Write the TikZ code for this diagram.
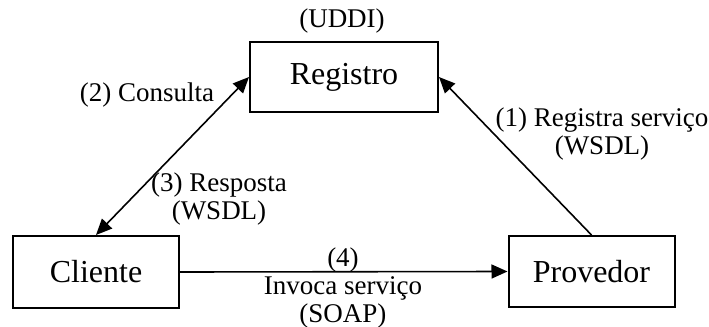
\documentclass[tikz,border=0pt]{standalone}
\usepackage{fontspec}
\setmainfont{Liberation Serif}
\usetikzlibrary{arrows.meta}

\begin{document}
\begin{tikzpicture}[x=0.5pt,y=-0.5pt,
	box/.style={draw,line width=1pt,minimum width=83pt,minimum height=36pt,inner sep=0pt,font=\fontsize{16}{18}\selectfont},
	lbl/.style={inner sep=0pt,align=center,font=\fontsize{13.5}{14}\selectfont},
	conn/.style={line width=0.8pt,arrows={-Triangle[length=8pt,width=7pt]}},
	conn2/.style={line width=0.8pt,arrows={Triangle[length=8pt,width=7pt]-Triangle[length=8pt,width=7pt]}}]
	
	% Parameters
	\def\wpic{709}
	\def\hpic{327}
	\useasboundingbox (0,0) rectangle (\wpic,\hpic);
	
	% boxes
	\node[box,minimum width=94pt,minimum height=35pt] (reg) at (344,77) {Registro};
	\node[box] (cli) at (96,272) {Cliente};
	\node[box,minimum height=35.5pt] (prov) at (591.5,271.5) {Provedor};
	
	% labels
	\node[lbl] (uddi) at (342,21) {(UDDI)};
	\node[lbl] (consulta) at (147,95) {(2) Consulta};
	\node[lbl] (resposta) at (219,199) {(3) Resposta\\(WSDL)};
	\node[lbl] (registra) at (602,134) {(1) Registra serviço\\(WSDL)};
	\node[lbl] (invoca) at (343,288) {(4)\\Invoca serviço\\(SOAP)};
	
	% connectors
	\draw[conn2] (cli.north) -- (reg.west);
	\draw[conn] (prov.north) -- (reg.east);
	\draw[conn] (cli.east) -- (prov.west);
	
\end{tikzpicture}
\end{document}
